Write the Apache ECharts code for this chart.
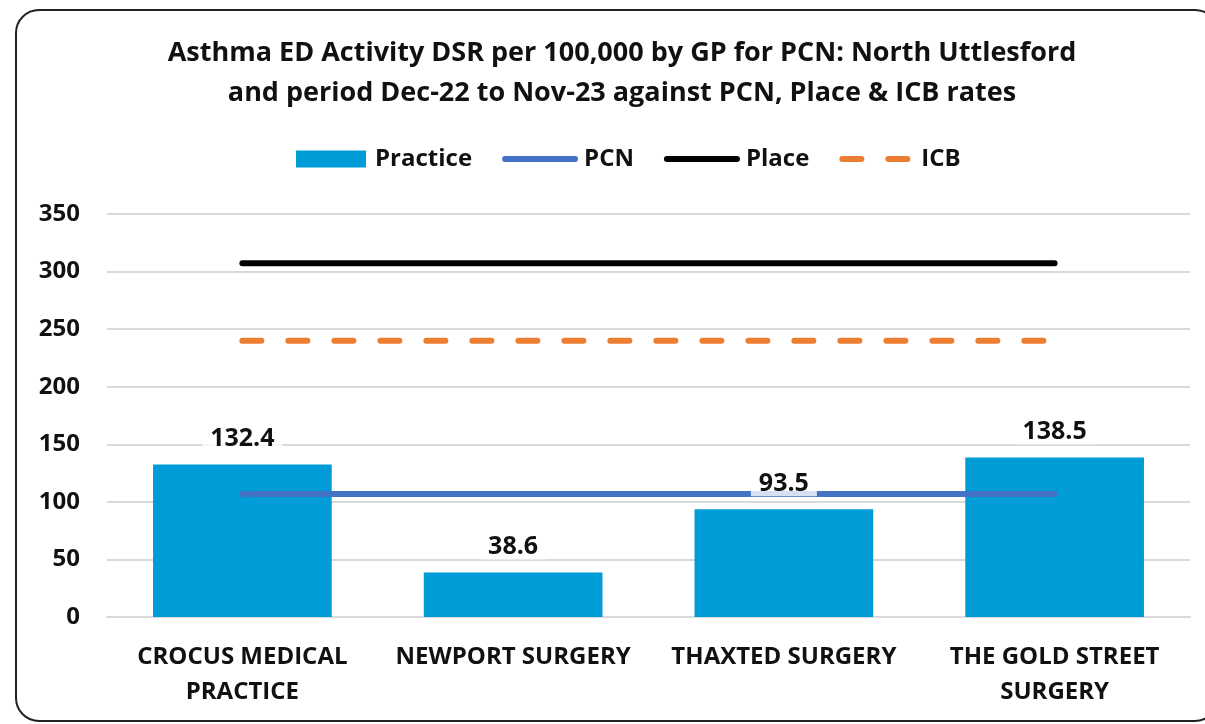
<!DOCTYPE html>
<html>
<head>
<meta charset="utf-8">
<script src="https://cdn.jsdelivr.net/npm/echarts@6/dist/echarts.min.js"></script>
<style>
html, body { margin: 0; padding: 0; background: #fff; overflow: hidden; }
#frame { position: absolute; left: 15px; top: 9px; width: 1200px; height: 709px; border: 2px solid #222; border-radius: 24px; }
#main { position: absolute; left: 0; top: 0; width: 1205px; height: 724px; }
</style>
</head>
<body>
<div id="frame"></div>
<div id="main"></div>
<script>
var categories = ['CROCUS MEDICAL\nPRACTICE', 'NEWPORT SURGERY', 'THAXTED SURGERY', 'THE GOLD STREET\nSURGERY'];
var practice = [132.4, 38.6, 93.5, 138.5];
var pcn = [106.8, 106.8, 106.8, 106.8];
var place = [307.3, 307.3, 307.3, 307.3];
var icb = [239.9, 239.9, 239.9, 239.9];
var yTicks = [0, 50, 100, 150, 200, 250, 300, 350];

var fontFam = '"Open Sans", "Noto Sans", sans-serif';
var myChart = echarts.init(document.getElementById('main'));

var option = {
    animation: false,
    title: {
        text: 'Asthma ED Activity DSR per 100,000 by GP for PCN: North Uttlesford\nand period Dec-22 to Nov-23 against PCN, Place & ICB rates',
        left: 617,
        textAlign: 'center',
        top: 28,
        textStyle: { fontFamily: fontFam, fontWeight: 'bold', fontSize: 27, lineHeight: 40, color: '#111' }
    },
    legend: {
        data: [
            { name: 'Practice', icon: 'rect' },
            { name: 'PCN', itemStyle: { opacity: 0 } },
            { name: 'Place', itemStyle: { opacity: 0 } },
            { name: 'ICB', itemStyle: { opacity: 0 } }
        ],
        left: 291,
        top: 142,
        itemWidth: 70,
        itemHeight: 17,
        itemGap: 30,
        lineStyle: { width: 6, cap: 'round' },
        textStyle: { fontFamily: fontFam, fontWeight: 'bold', fontSize: 24, color: '#111', padding: [0, 0, 0, 4] }
    },
    grid: { left: 107, right: 15, top: 214, bottom: 107 },
    xAxis: {
        type: 'category',
        data: categories,
        axisLine: { show: true, lineStyle: { color: '#d9d9d9', width: 2 } },
        axisTick: { show: false },
        axisLabel: { fontFamily: fontFam, fontWeight: 'bold', fontSize: 24, color: '#111', margin: 23, lineHeight: 35, interval: 0 }
    },
    yAxis: {
        type: 'value',
        min: yTicks[0],
        max: yTicks[yTicks.length - 1],
        interval: 50,
        axisLine: { show: false },
        axisTick: { show: false },
        axisLabel: { fontFamily: fontFam, fontWeight: 'bold', fontSize: 24, color: '#111', margin: 27 },
        splitLine: { lineStyle: { color: '#d9d9d9', width: 2 } }
    },
    series: [
        {
            name: 'Practice',
            type: 'bar',
            data: practice,
            barWidth: '66%',
            itemStyle: { color: '#009cd7' },
            z: 1
        },
        {
            name: 'PCN',
            type: 'line',
            data: pcn,
            symbol: 'none',
            lineStyle: { color: '#4472c4', width: 6, cap: 'round' },
            itemStyle: { color: '#4472c4' },
            z: 3
        },
        {
            name: 'Place',
            type: 'line',
            data: place,
            symbol: 'none',
            lineStyle: { color: '#000', width: 6, cap: 'round' },
            itemStyle: { color: '#000' },
            z: 3
        },
        {
            name: 'ICB',
            type: 'line',
            data: icb,
            symbol: 'none',
            lineStyle: { color: '#ed7d31', width: 6, type: [19, 27], cap: 'round' },
            itemStyle: { color: '#ed7d31' },
            z: 3
        },
        {
            // labels for practice bars, drawn above the PCN line
            name: 'PracticeLabels',
            type: 'bar',
            data: practice,
            barWidth: '66%',
            barGap: '-100%',
            itemStyle: { color: 'rgba(0,0,0,0)' },
            silent: true,
            z: 5,
            label: {
                show: true,
                position: 'top',
                distance: 13,
                fontFamily: fontFam,
                fontWeight: 'bold',
                fontSize: 25,
                color: '#111',
                backgroundColor: 'rgba(255,255,255,0.78)',
                padding: [0, 8, 0, 8]
            }
        }
    ]
};
myChart.setOption(option);
</script>
</body>
</html>
